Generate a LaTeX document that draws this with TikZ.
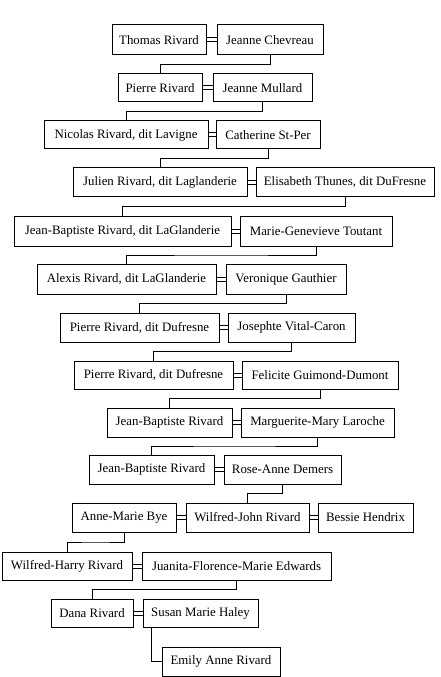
\documentclass[tikz,border=0pt]{standalone}
\usepackage{fontspec}
\setmainfont{Liberation Serif}
\usepackage{tikz}
\usetikzlibrary{positioning,calc}
\tikzset{
  person/.style ={rectangle, draw=black, fill=white, line width=0.75pt, inner sep=0pt,
                  align=center, font=\fontsize{9.65}{11}\selectfont},
  descent/.style={draw=black, line width=0.75pt},
  wed/.style    ={draw=black, line width=0.75pt}
}

\begin{document}
\begin{tikzpicture}[x=0.75pt, y=-0.75pt]
  \fill[white] (0,0) rectangle (441,677);
  \useasboundingbox (0,0) rectangle (441,677);

  % generation by generation: person, then spouse
  \node[person, minimum width=94*0.75pt,  minimum height=30*0.75pt] (tr) at (159,40)    {Thomas Rivard};
  \node[person, minimum width=106*0.75pt, minimum height=30*0.75pt] (jc) at (270,40)    {Jeanne Chevreau};
  \node[person, minimum width=84*0.75pt,  minimum height=28*0.75pt] (pr) at (160,88)    {Pierre Rivard};
  \node[person, minimum width=99*0.75pt,  minimum height=28*0.75pt] (jm) at (262.5,88)  {Jeanne Mullard};
  \node[person, minimum width=164*0.75pt, minimum height=28*0.75pt] (nr) at (126,135)   {Nicolas Rivard, dit Lavigne};
  \node[person, minimum width=104*0.75pt, minimum height=28*0.75pt] (cs) at (268,135)   {Catherine St-Per};
  \node[person, minimum width=174*0.75pt, minimum height=29*0.75pt] (jr) at (160,182.5) {Julien Rivard, dit Laglanderie};
  \node[person, minimum width=178*0.75pt, minimum height=29*0.75pt] (et) at (345,182.5) {Elisabeth Thunes, dit DuFresne};
  \node[person, minimum width=217*0.75pt, minimum height=30*0.75pt] (jb1) at (122.5,231) {Jean-Baptiste Rivard, dit LaGlanderie};
  \node[person, minimum width=152*0.75pt, minimum height=30*0.75pt] (mg) at (316,231)   {Marie-Genevieve Toutant};
  \node[person, minimum width=179*0.75pt, minimum height=30*0.75pt] (ar) at (126.5,279) {Alexis Rivard, dit LaGlanderie};
  \node[person, minimum width=120*0.75pt, minimum height=30*0.75pt] (vg) at (286,279)   {Veronique Gauthier};
  \node[person, minimum width=159*0.75pt, minimum height=29*0.75pt] (pd1) at (139.5,327.5) {Pierre Rivard, dit Dufresne};
  \node[person, minimum width=127*0.75pt, minimum height=29*0.75pt] (jv) at (291.5,327.5) {Josephte Vital-Caron};
  \node[person, minimum width=159*0.75pt, minimum height=28*0.75pt] (pd2) at (153.5,375) {Pierre Rivard, dit Dufresne};
  \node[person, minimum width=156*0.75pt, minimum height=28*0.75pt] (fg) at (320,375)   {Felicite Guimond-Dumont};
  \node[person, minimum width=125*0.75pt, minimum height=29*0.75pt] (jb2) at (169.5,422.5) {Jean-Baptiste Rivard};
  \node[person, minimum width=153*0.75pt, minimum height=29*0.75pt] (ml) at (317.5,422.5) {Marguerite-Mary Laroche};
  \node[person, minimum width=125*0.75pt, minimum height=29*0.75pt] (jb3) at (151.5,469.5) {Jean-Baptiste Rivard};
  \node[person, minimum width=117*0.75pt, minimum height=29*0.75pt] (rd) at (282.5,469.5) {Rose-Anne Demers};
  \node[person, minimum width=104*0.75pt, minimum height=29*0.75pt] (ab) at (124,517.5)  {Anne-Marie Bye};
  \node[person, minimum width=123*0.75pt, minimum height=29*0.75pt] (wj) at (247.5,517.5) {Wilfred-John Rivard};
  \node[person, minimum width=95*0.75pt,  minimum height=29*0.75pt] (bh) at (365.5,517.5) {Bessie Hendrix};
  \node[person, minimum width=130*0.75pt, minimum height=28*0.75pt] (wh) at (67,566)    {Wilfred-Harry Rivard};
  \node[person, minimum width=189*0.75pt, minimum height=28*0.75pt] (je) at (236.5,566) {Juanita-Florence-Marie Edwards};
  \node[person, minimum width=82*0.75pt,  minimum height=28*0.75pt] (dr) at (92,613)    {Dana Rivard};
  \node[person, minimum width=115*0.75pt, minimum height=28*0.75pt] (sh) at (200.5,613) {Susan Marie Haley};
  \node[person, minimum width=118*0.75pt, minimum height=29*0.75pt] (ea) at (221,661.5) {Emily Anne Rivard};

  % marriages
  \foreach \a/\b in {tr/jc, pr/jm, nr/cs, jr/et, jb1/mg, ar/vg, pd1/jv, pd2/fg,
                     jb2/ml, jb3/rd, ab/wj, wj/bh, wh/je, dr/sh} {
    \draw[wed] ([yshift=1.5pt]\a.east) -- ([yshift=1.5pt]\b.west);
    \draw[wed] ([yshift=-1.5pt]\a.east) -- ([yshift=-1.5pt]\b.west);
  }

  % children
  \foreach \p/\c in {jc/pr, jm/nr, cs/jr, et/jb1, mg/ar, vg/pd1, jv/pd2, fg/jb2,
                     ml/jb3, rd/wj, ab/wh, je/dr} {
    \draw[descent] (\p.south) |- ($(\p.south)!0.5!(\c.north)$) -| (\c.north);
  }
  \draw[descent] ([xshift=9*0.75pt]sh.south west) |- (ea.west);
\end{tikzpicture}
\end{document}
